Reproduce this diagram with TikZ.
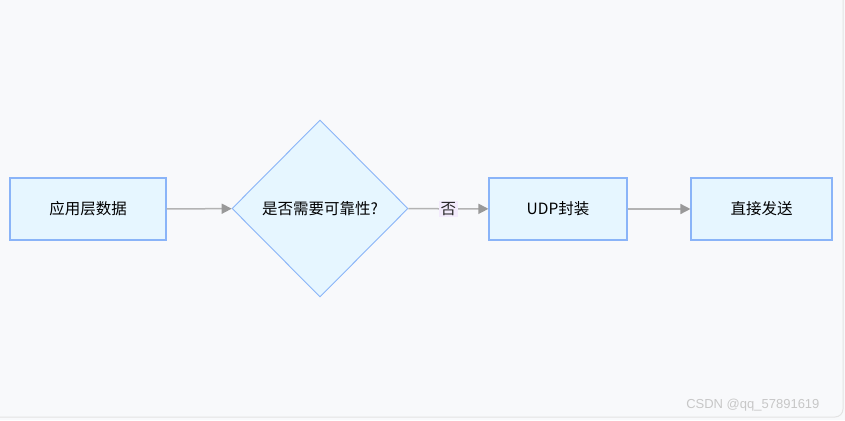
\documentclass[tikz,border=0pt]{standalone}
\usepackage{fontspec}
\setmainfont{Noto Sans CJK SC}
\newfontfamily\markfont{Liberation Sans}
\usetikzlibrary{shapes.geometric,arrows.meta}
\definecolor{pagebg}{HTML}{F8F9FB}
\definecolor{nodefill}{HTML}{E6F6FF}
\definecolor{nodeline}{HTML}{8AB4F8}
\definecolor{linkgray}{HTML}{B3B3B3}
\definecolor{headgray}{HTML}{999999}
\definecolor{lblfill}{HTML}{F3EBFC}

\begin{document}
\begin{tikzpicture}[
x=1pt, y=-1pt,
font=\fontsize{15.5}{18}\selectfont,
box/.style={draw=nodeline, fill=nodefill, line width=1.1pt, align=center, minimum height=62pt, inner sep=0pt},
decision/.style={diamond, draw=nodeline, fill=nodefill, line width=0.9pt, minimum width=176pt, minimum height=177pt, inner sep=0pt},
arr/.style={-{Triangle[length=10pt, width=10pt, color=headgray]}, line width=1.5pt, linkgray},
lbl/.style={fill=lblfill, inner sep=1.5pt, text=black!85}
]

% page
\useasboundingbox (0,0) rectangle (845,420);
\fill[pagebg] (0,0) rectangle (845,420);
\draw[gray!22, line width=1pt, rounded corners=8pt] (-20,-20) rectangle (843,417);

% nodes
\node[box, minimum width=156pt] (appdata) at (88,209) {应用层数据};
\node[decision] (reliable) at (320,208.5) {是否需要可靠性?};
\node[box, minimum width=138pt] (udp) at (558,209) {UDP封装};
\node[box, minimum width=141pt] (send) at (761.5,209) {直接发送};

% links
\draw[arr] (appdata) -- (reliable);
\draw[arr] (reliable) -- node[lbl] {否} (udp);
\draw[arr] (udp) -- (send);

% watermark
\node[font=\markfont\fontsize{13}{15}\selectfont, text=black!22, anchor=east] (mark) at (823,405) {CSDN @qq\_57891619};

\end{tikzpicture}
\end{document}
